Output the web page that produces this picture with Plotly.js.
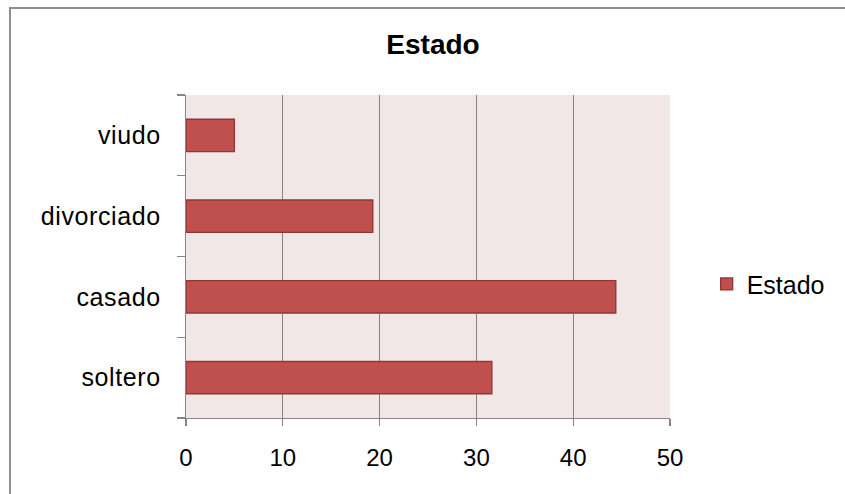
<!DOCTYPE html>
<html>
<head>
<meta charset="utf-8">
<script src="https://cdn.plot.ly/plotly-3.0.1.min.js"></script>
<style>
  html, body { margin: 0; padding: 0; overflow: hidden; background: #fff; }
  #chart { width: 845px; height: 494px; position: absolute; left: 0; top: 0; }
  #frame { position: absolute; left: 9px; top: 7px; width: 900px; height: 600px;
           border: 2px solid #8f8f8f; pointer-events: none; box-sizing: border-box; }
  #chart .ytick text { letter-spacing: 0.6px; }
</style>
</head>
<body>
<div id="chart"></div>
<div id="frame"></div>
<script>
const categories = ["soltero", "casado", "divorciado", "viudo"];
const values = [31.6, 44.4, 19.3, 5.0];
const seriesName = "Estado";
const chartTitle = "Estado";
const xTickValues = [0, 10, 20, 30, 40, 50];

const font = "Liberation Sans, Arial, sans-serif";
const gridColor = "#868686";

const trace = {
  type: "bar",
  orientation: "h",
  x: values,
  y: categories,
  name: seriesName,
  showlegend: true,
  marker: { color: "#c0504d", line: { color: "#8c3836", width: 1.3 } },
  hoverinfo: "x+y"
};

const layout = {
  width: 845,
  height: 494,
  margin: { l: 186, r: 174.7, t: 95, b: 76.3, pad: 0 },
  paper_bgcolor: "#ffffff",
  plot_bgcolor: "#f2e7e7",
  font: { family: font, size: 24, color: "#000" },
  title: {
    text: "<b>" + chartTitle + "</b>",
    font: { family: font, size: 28, color: "#000" },
    x: 433 / 845, xref: "container", xanchor: "center",
    y: 1 - 44 / 494, yref: "container", yanchor: "middle"
  },
  bargap: 0.6,
  xaxis: {
    range: [0, 50],
    tickvals: xTickValues,
    ticktext: xTickValues.map(String),
    showgrid: true, gridcolor: gridColor, gridwidth: 1,
    showline: true, linecolor: gridColor, linewidth: 1.3,
    ticks: "outside", ticklen: 7, tickcolor: gridColor, tickwidth: 1.3,
    ticklabelstandoff: 11,
    zeroline: false,
    fixedrange: true,
    tickfont: { family: font, size: 24, color: "#000" }
  },
  yaxis: {
    type: "category",
    categoryorder: "array",
    categoryarray: categories,
    showgrid: false,
    showline: true, linecolor: gridColor, linewidth: 1.3,
    mirror: false,
    ticks: "outside", ticklen: 8, tickcolor: gridColor, tickwidth: 1.3,
    tickson: "boundaries",
    ticklabelstandoff: 19,
    fixedrange: true,
    tickfont: { family: font, size: 25, color: "#000" }
  },
  legend: {
    x: (707 - 186) / 484.3, xanchor: "left",
    y: (417.7 - 284) / 322.7, yanchor: "middle",
    font: { family: font, size: 25, color: "#000" },
    bgcolor: "rgba(0,0,0,0)",
    borderwidth: 0
  }
};

Plotly.newPlot("chart", [trace], layout, { displayModeBar: false, staticPlot: true });
</script>
</body>
</html>
